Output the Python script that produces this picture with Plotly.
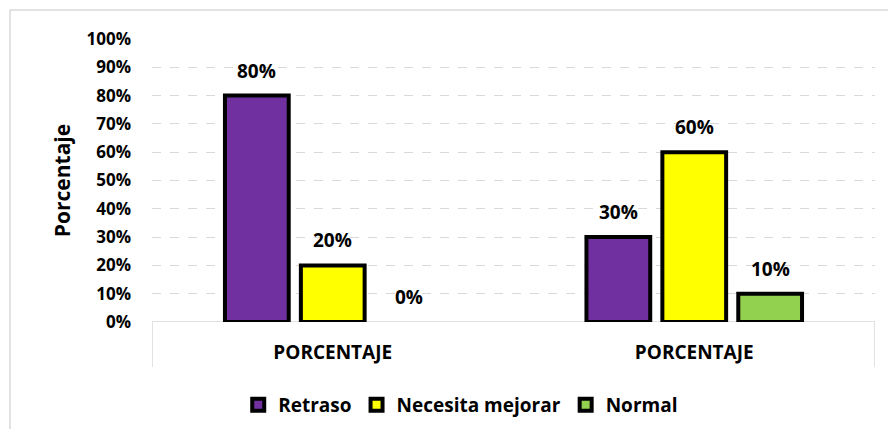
import plotly.graph_objects as go

categories = ["PORCENTAJE", "PORCENTAJE"]
series_names = ["Retraso", "Necesita mejorar", "Normal"]
retraso = [80, 30]
necesita = [20, 60]
normal = [0, 10]
colors = ["#7030A0", "#FFFF00", "#92D050"]
y_ticks = list(range(0, 101, 10))

FONT = "Open Sans"
x_pos = list(range(len(categories)))
series = [retraso, necesita, normal]
BARGAP = 0.37
n = len(series)

fig = go.Figure()
for i, (name, vals, col) in enumerate(zip(series_names, series, colors)):
    # put non-zero points first so the legend symbol keeps its outline
    order = sorted(range(len(vals)), key=lambda k: vals[k] == 0)
    fig.add_trace(go.Bar(
        x=[x_pos[k] for k in order], y=[vals[k] for k in order], name=name,
        marker=dict(color=col,
                    line=dict(color="black", width=[4 if vals[k] > 0 else 0 for k in order])),
        cliponaxis=False,
    ))
    slot = (1 - BARGAP) / n
    for k, v in enumerate(vals):
        fig.add_annotation(x=x_pos[k] + (i - (n - 1) / 2) * slot, y=v, xref="x", yref="y",
                           text=f"<b>{v}%</b>", showarrow=False, yanchor="bottom", yshift=10,
                           font=dict(family=FONT, size=19, color="black"))

fig.update_layout(
    width=880, height=421,
    margin=dict(l=144, r=13, t=31, b=107, autoexpand=False),
    paper_bgcolor="white", plot_bgcolor="white",
    barmode="group", bargap=BARGAP, bargroupgap=0.16,
    font=dict(family=FONT, color="black"),
    showlegend=True,
    legend=dict(orientation="h", x=0.427, xanchor="center", y=-0.293, yanchor="middle",
                font=dict(family=FONT, size=19, color="black", weight="bold"),
                itemwidth=30, traceorder="normal"),
)
fig.update_xaxes(
    tickvals=x_pos, ticktext=[f"<b>{c}</b>" for c in categories],
    range=[-0.5, len(categories) - 0.5],
    tickfont=dict(family=FONT, size=19, color="black"),
    showgrid=False, zeroline=False, showline=False, ticks="",
    ticklabelstandoff=17, automargin=False,
)
fig.update_yaxes(
    range=[0, 100], tickvals=y_ticks, ticktext=[f"<b>{t}%</b>" for t in y_ticks],
    tickfont=dict(family=FONT, size=17, color="black"),
    showgrid=True, gridcolor="#d9d9d9", griddash="dash", gridwidth=1.3,
    zeroline=False, showline=False, ticks="",
    ticklabelstandoff=20, automargin=False,
    title=dict(text="<b>Porcentaje</b>", font=dict(family=FONT, size=21, color="black"), standoff=10),
)
# category axis line and separators
fig.add_shape(type="line", xref="paper", yref="y", x0=0, x1=1, y0=0, y1=0,
              line=dict(color="#d9d9d9", width=1.5), layer="below")
for xv in [-0.5, len(categories) - 0.5]:
    fig.add_shape(type="line", xref="x", yref="paper", x0=xv, x1=xv, y0=0, y1=-0.159,
                  line=dict(color="#d9d9d9", width=1.5))
# outer chart border
fig.add_shape(type="rect", xref="paper", yref="paper", x0=-0.1964, x1=1.2, y0=-0.6, y1=1.1025,
              line=dict(color="#d9d9d9", width=1.5))

fig.write_html("out.html")
